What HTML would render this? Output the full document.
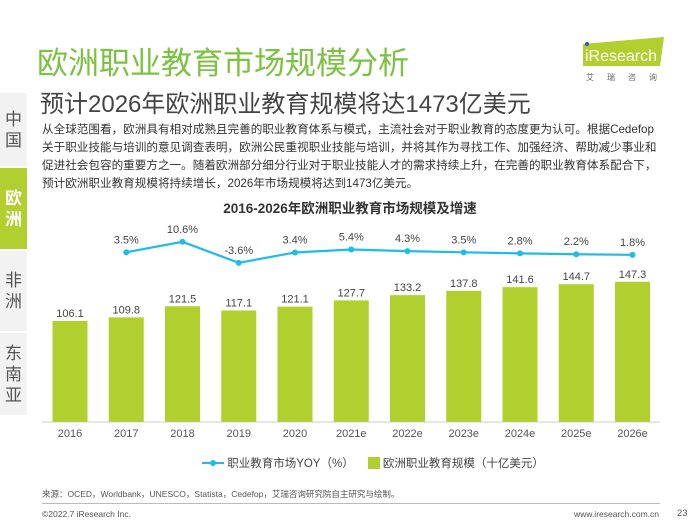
<!DOCTYPE html>
<html><head><meta charset="utf-8">
<style>
body{margin:0;width:700px;height:525px;background:#fff;overflow:hidden;position:relative;font-family:"Liberation Sans","Noto Sans CJK SC",sans-serif;}
.abs{position:absolute;white-space:nowrap}
.nav{position:absolute;left:0;width:27px;background:#f2f2f2;color:#555;font-size:17px;text-align:center;line-height:21px;display:flex;flex-direction:column;justify-content:center;align-items:center}
</style></head><body>
<div class="abs" style="left:37px;top:38px;font-size:31px;color:#7cc242;letter-spacing:0px">欧洲职业教育市场规模分析</div>
<div class="abs" style="left:40px;top:84px;font-size:24px;color:#444">预计2026年欧洲职业教育规模将达1473亿美元</div>
<svg class="abs" style="left:578px;top:34px" width="90" height="50">
<polygon points="5,10 86,3 82,32 5,32" fill="#b1cf2f"/>
<circle cx="9" cy="10" r="2" fill="#2a5caa"/>
<text x="7" y="27" font-size="16" fill="#fff" font-family="Liberation Sans">iResearch</text>
<text x="8" y="46" font-size="8" fill="#666" font-family="Noto Sans CJK SC" letter-spacing="13">艾瑞咨询</text>
</svg>
<div class="nav" style="top:93px;height:73px">中<br>国</div>
<div class="nav" style="top:168px;height:81px;background:#b1cf2f;color:#fff;font-weight:bold">欧<br>洲</div>
<div class="nav" style="top:251px;height:80px">非<br>洲</div>
<div class="nav" style="top:333px;height:82px">东<br>南<br>亚</div>
<div class="abs" style="left:42px;top:121px;font-size:11.6px;line-height:18px;color:#333">从全球范围看，欧洲具有相对成熟且完善的职业教育体系与模式，主流社会对于职业教育的态度更为认可。根据Cedefop<br>关于职业技能与培训的意见调查表明，欧洲公民重视职业技能与培训，并将其作为寻找工作、加强经济、帮助减少事业和<br>促进社会包容的重要方之一。随着欧洲部分细分行业对于职业技能人才的需求持续上升，在完善的职业教育体系配合下，<br>预计欧洲职业教育规模将持续增长，2026年市场规模将达到1473亿美元。</div>
<div class="abs" style="left:0;width:700px;text-align:center;top:197px;font-size:13.5px;font-weight:bold;color:#333">2016-2026年欧洲职业教育市场规模及增速</div>
<svg id="chart" class="abs" style="left:0;top:0" width="700" height="525"></svg>
<div class="abs" style="left:202px;top:455px;font-size:11.5px;color:#444;display:flex;align-items:center">
<span style="display:flex;align-items:center"><svg width="22" height="10"><line x1="0" y1="5" x2="22" y2="5" stroke="#1fbbe9" stroke-width="2"/><circle cx="11" cy="5" r="3" fill="#1fbbe9"/></svg>&nbsp;职业教育市场YOY（%）</span>
<span style="display:flex;align-items:center;margin-left:14px"><span style="display:inline-block;width:12px;height:12px;background:#b1cf2f"></span>&nbsp;欧洲职业教育规模（十亿美元）</span>
</div>
<div class="abs" style="left:42px;top:488px;font-size:8.5px;color:#555">来源：OCED，Worldbank，UNESCO，Statista，Cedefop，艾瑞咨询研究院自主研究与绘制。</div>
<div class="abs" style="left:42px;top:503px;width:618px;height:1px;background:#bbb"></div>
<div class="abs" style="left:42px;top:509px;font-size:8.5px;color:#555">©2022.7 iResearch Inc.</div>
<div class="abs" style="left:574px;top:509px;font-size:8.5px;color:#555">www.iresearch.com.cn</div>
<div class="abs" style="left:677px;top:508px;font-size:9.5px;color:#555">23</div>
<script>
const categories=["2016","2017","2018","2019","2020","2021e","2022e","2023e","2024e","2025e","2026e"];
const sizeValues=[106.1,109.8,121.5,117.1,121.1,127.7,133.2,137.8,141.6,144.7,147.3];
const yoyValues=[null,3.5,10.6,-3.6,3.4,5.4,4.3,3.5,2.8,2.2,1.8];
const svg=document.getElementById('chart');
const NS='http://www.w3.org/2000/svg';
const x=i=>70+i*56.25;
const yBar=v=>421.7-v*0.95;
const yLine=v=>257.5-v*1.48;
function mk(t,a){const e=document.createElementNS(NS,t);for(const k in a)e.setAttribute(k,a[k]);svg.appendChild(e);return e;}
const axis=mk('line',{x1:42,y1:422,x2:660,y2:422,stroke:'#ccc','stroke-width':1});


categories.forEach((c,i)=>{
  const v=sizeValues[i];
  const r=mk('rect',{x:x(i)-17.5,y:yBar(v),width:35,height:421.7-yBar(v),fill:'#b1cf2f'});
  
  
  const t=mk('text',{x:x(i),y:yBar(v)-4,'text-anchor':'middle','font-size':11,fill:'#444','font-family':'Liberation Sans'});
  t.textContent=v.toFixed(1);
  
  
  const xl=mk('text',{x:x(i),y:437,'text-anchor':'middle','font-size':11,fill:'#555','font-family':'Liberation Sans'});
  xl.textContent=c;
  
  
});
let pts=[];
yoyValues.forEach((v,i)=>{if(v!==null)pts.push(x(i)+','+yLine(v));});
const pl=mk('polyline',{points:pts.join(' '),fill:'none',stroke:'#1fbbe9','stroke-width':2.2});


yoyValues.forEach((v,i)=>{
  if(v===null)return;
  const c=mk('circle',{cx:x(i),cy:yLine(v),r:3,fill:'#1fbbe9'});
  
  
  const t=mk('text',{x:x(i),y:yLine(v)-9,'text-anchor':'middle','font-size':11,fill:'#444','font-family':'Liberation Sans'});
  t.textContent=v.toFixed(1)+'%';
  
  
});
</script>
</body></html>
